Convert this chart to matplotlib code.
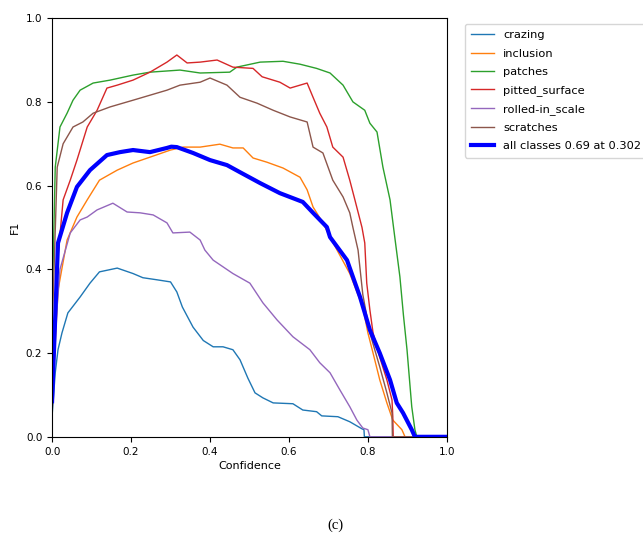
import matplotlib
matplotlib.use("Agg")
import matplotlib.pyplot as plt

names = ["crazing", "inclusion", "patches", "pitted_surface", "rolled-in_scale", "scratches"]

crazing_x = [0.0, 0.008, 0.015, 0.025, 0.04, 0.071, 0.096, 0.12, 0.165, 0.205, 0.23, 0.266, 0.30, 0.316, 0.33, 0.357, 0.383, 0.408, 0.433, 0.458, 0.476, 0.496, 0.514, 0.534, 0.56, 0.61, 0.635, 0.67, 0.683, 0.724, 0.754, 0.785, 0.79, 0.791, 1.0]
crazing_y = [0.05, 0.153, 0.208, 0.248, 0.296, 0.334, 0.367, 0.394, 0.403, 0.39, 0.38, 0.375, 0.37, 0.346, 0.31, 0.262, 0.23, 0.215, 0.215, 0.208, 0.184, 0.14, 0.105, 0.093, 0.081, 0.079, 0.064, 0.06, 0.05, 0.048, 0.036, 0.019, 0.017, 0.0, 0.0]

inclusion_x = [0.0, 0.015, 0.038, 0.063, 0.089, 0.12, 0.165, 0.205, 0.248, 0.30, 0.332, 0.375, 0.425, 0.458, 0.484, 0.509, 0.544, 0.585, 0.628, 0.646, 0.661, 0.686, 0.704, 0.754, 0.787, 0.80, 0.813, 0.83, 0.848, 0.863, 0.886, 0.894, 1.0]
inclusion_y = [0.08, 0.35, 0.47, 0.525, 0.566, 0.613, 0.637, 0.654, 0.668, 0.685, 0.692, 0.692, 0.699, 0.69, 0.69, 0.666, 0.656, 0.642, 0.62, 0.59, 0.549, 0.511, 0.477, 0.39, 0.31, 0.248, 0.20, 0.136, 0.081, 0.04, 0.017, 0.0, 0.0]

patches_x = [0.0, 0.008, 0.02, 0.038, 0.053, 0.071, 0.104, 0.147, 0.205, 0.248, 0.324, 0.375, 0.45, 0.468, 0.527, 0.585, 0.628, 0.67, 0.704, 0.737, 0.762, 0.792, 0.805, 0.823, 0.838, 0.856, 0.868, 0.881, 0.89, 0.899, 0.905, 0.911, 0.919, 0.924, 1.0]
patches_y = [0.30, 0.644, 0.74, 0.773, 0.804, 0.828, 0.845, 0.852, 0.864, 0.871, 0.876, 0.869, 0.871, 0.883, 0.895, 0.897, 0.89, 0.88, 0.869, 0.84, 0.80, 0.78, 0.749, 0.728, 0.644, 0.566, 0.477, 0.382, 0.29, 0.208, 0.14, 0.072, 0.017, 0.0, 0.0]

pitted_x = [0.0, 0.012, 0.028, 0.046, 0.063, 0.089, 0.114, 0.139, 0.165, 0.205, 0.248, 0.291, 0.316, 0.342, 0.375, 0.418, 0.458, 0.509, 0.532, 0.577, 0.603, 0.628, 0.646, 0.661, 0.678, 0.696, 0.711, 0.737, 0.754, 0.767, 0.785, 0.792, 0.797, 0.805, 0.813, 0.83, 0.848, 0.861, 0.863, 0.864, 1.0]
pitted_y = [0.05, 0.40, 0.566, 0.613, 0.661, 0.74, 0.78, 0.833, 0.84, 0.852, 0.871, 0.895, 0.912, 0.893, 0.895, 0.90, 0.883, 0.88, 0.86, 0.847, 0.833, 0.84, 0.845, 0.811, 0.773, 0.74, 0.692, 0.668, 0.613, 0.566, 0.50, 0.463, 0.367, 0.303, 0.248, 0.19, 0.136, 0.088, 0.048, 0.0, 0.0]

rolled_x = [0.0, 0.008, 0.02, 0.046, 0.071, 0.089, 0.114, 0.154, 0.19, 0.223, 0.256, 0.291, 0.306, 0.349, 0.375, 0.387, 0.408, 0.458, 0.501, 0.534, 0.57, 0.61, 0.653, 0.678, 0.704, 0.729, 0.754, 0.772, 0.787, 0.80, 0.805, 1.0]
rolled_y = [0.10, 0.25, 0.40, 0.487, 0.518, 0.525, 0.542, 0.558, 0.537, 0.535, 0.53, 0.511, 0.487, 0.489, 0.47, 0.446, 0.422, 0.39, 0.367, 0.32, 0.279, 0.239, 0.208, 0.177, 0.153, 0.112, 0.072, 0.04, 0.021, 0.017, 0.0, 0.0]

scratches_x = [0.0, 0.013, 0.028, 0.053, 0.078, 0.104, 0.147, 0.205, 0.248, 0.291, 0.324, 0.375, 0.40, 0.443, 0.476, 0.519, 0.56, 0.603, 0.646, 0.661, 0.686, 0.711, 0.737, 0.754, 0.762, 0.775, 0.787, 0.805, 0.83, 0.848, 0.861, 0.862, 1.0]
scratches_y = [0.25, 0.644, 0.70, 0.74, 0.752, 0.773, 0.788, 0.804, 0.816, 0.828, 0.84, 0.847, 0.857, 0.84, 0.811, 0.797, 0.78, 0.764, 0.752, 0.692, 0.678, 0.613, 0.573, 0.535, 0.50, 0.446, 0.34, 0.248, 0.167, 0.105, 0.057, 0.0, 0.0]

all_x = [0.0, 0.015, 0.038, 0.063, 0.096, 0.139, 0.172, 0.205, 0.248, 0.291, 0.302, 0.316, 0.357, 0.40, 0.443, 0.476, 0.527, 0.577, 0.635, 0.661, 0.696, 0.704, 0.747, 0.78, 0.805, 0.83, 0.856, 0.873, 0.889, 0.911, 0.919, 1.0]
all_y = [0.085, 0.463, 0.535, 0.597, 0.637, 0.673, 0.68, 0.685, 0.68, 0.69, 0.693, 0.692, 0.678, 0.661, 0.649, 0.632, 0.606, 0.582, 0.561, 0.535, 0.501, 0.477, 0.422, 0.334, 0.255, 0.20, 0.136, 0.081, 0.057, 0.017, 0.0, 0.0]
all_label = "all classes 0.69 at 0.302"

series = [(crazing_x, crazing_y), (inclusion_x, inclusion_y), (patches_x, patches_y),
          (pitted_x, pitted_y), (rolled_x, rolled_y), (scratches_x, scratches_y)]

plt.rcParams['font.family'] = ['DejaVu Sans']
fig = plt.figure(figsize=(6.43, 5.34), dpi=100)
ax = fig.add_axes([0.081, 0.182, 0.614, 0.784])
for i, (name, (xs, ys)) in enumerate(zip(names, series)):
    ax.plot(xs, ys, color=f"C{i}", lw=1, label=name)
ax.plot(all_x, all_y, color="blue", lw=3, label=all_label)
ax.set_xlim(0, 1)
ax.set_ylim(0, 1)
ax.set_xlabel("Confidence", fontsize=8, labelpad=3)
ax.set_ylabel("F1", fontsize=8)
ax.tick_params(labelsize=7.5, length=3.5)
ax.legend(loc="upper left", bbox_to_anchor=(1.046, 0.9857), fontsize=8.2,
          frameon=True, borderaxespad=0, handlelength=2.0, labelspacing=0.72,
          borderpad=0.55)
fig.text(0.522, 0.004, "(c)", family="Liberation Serif", fontsize=10.5, ha="center", va="bottom")
fig.savefig("out.png", dpi=100)
